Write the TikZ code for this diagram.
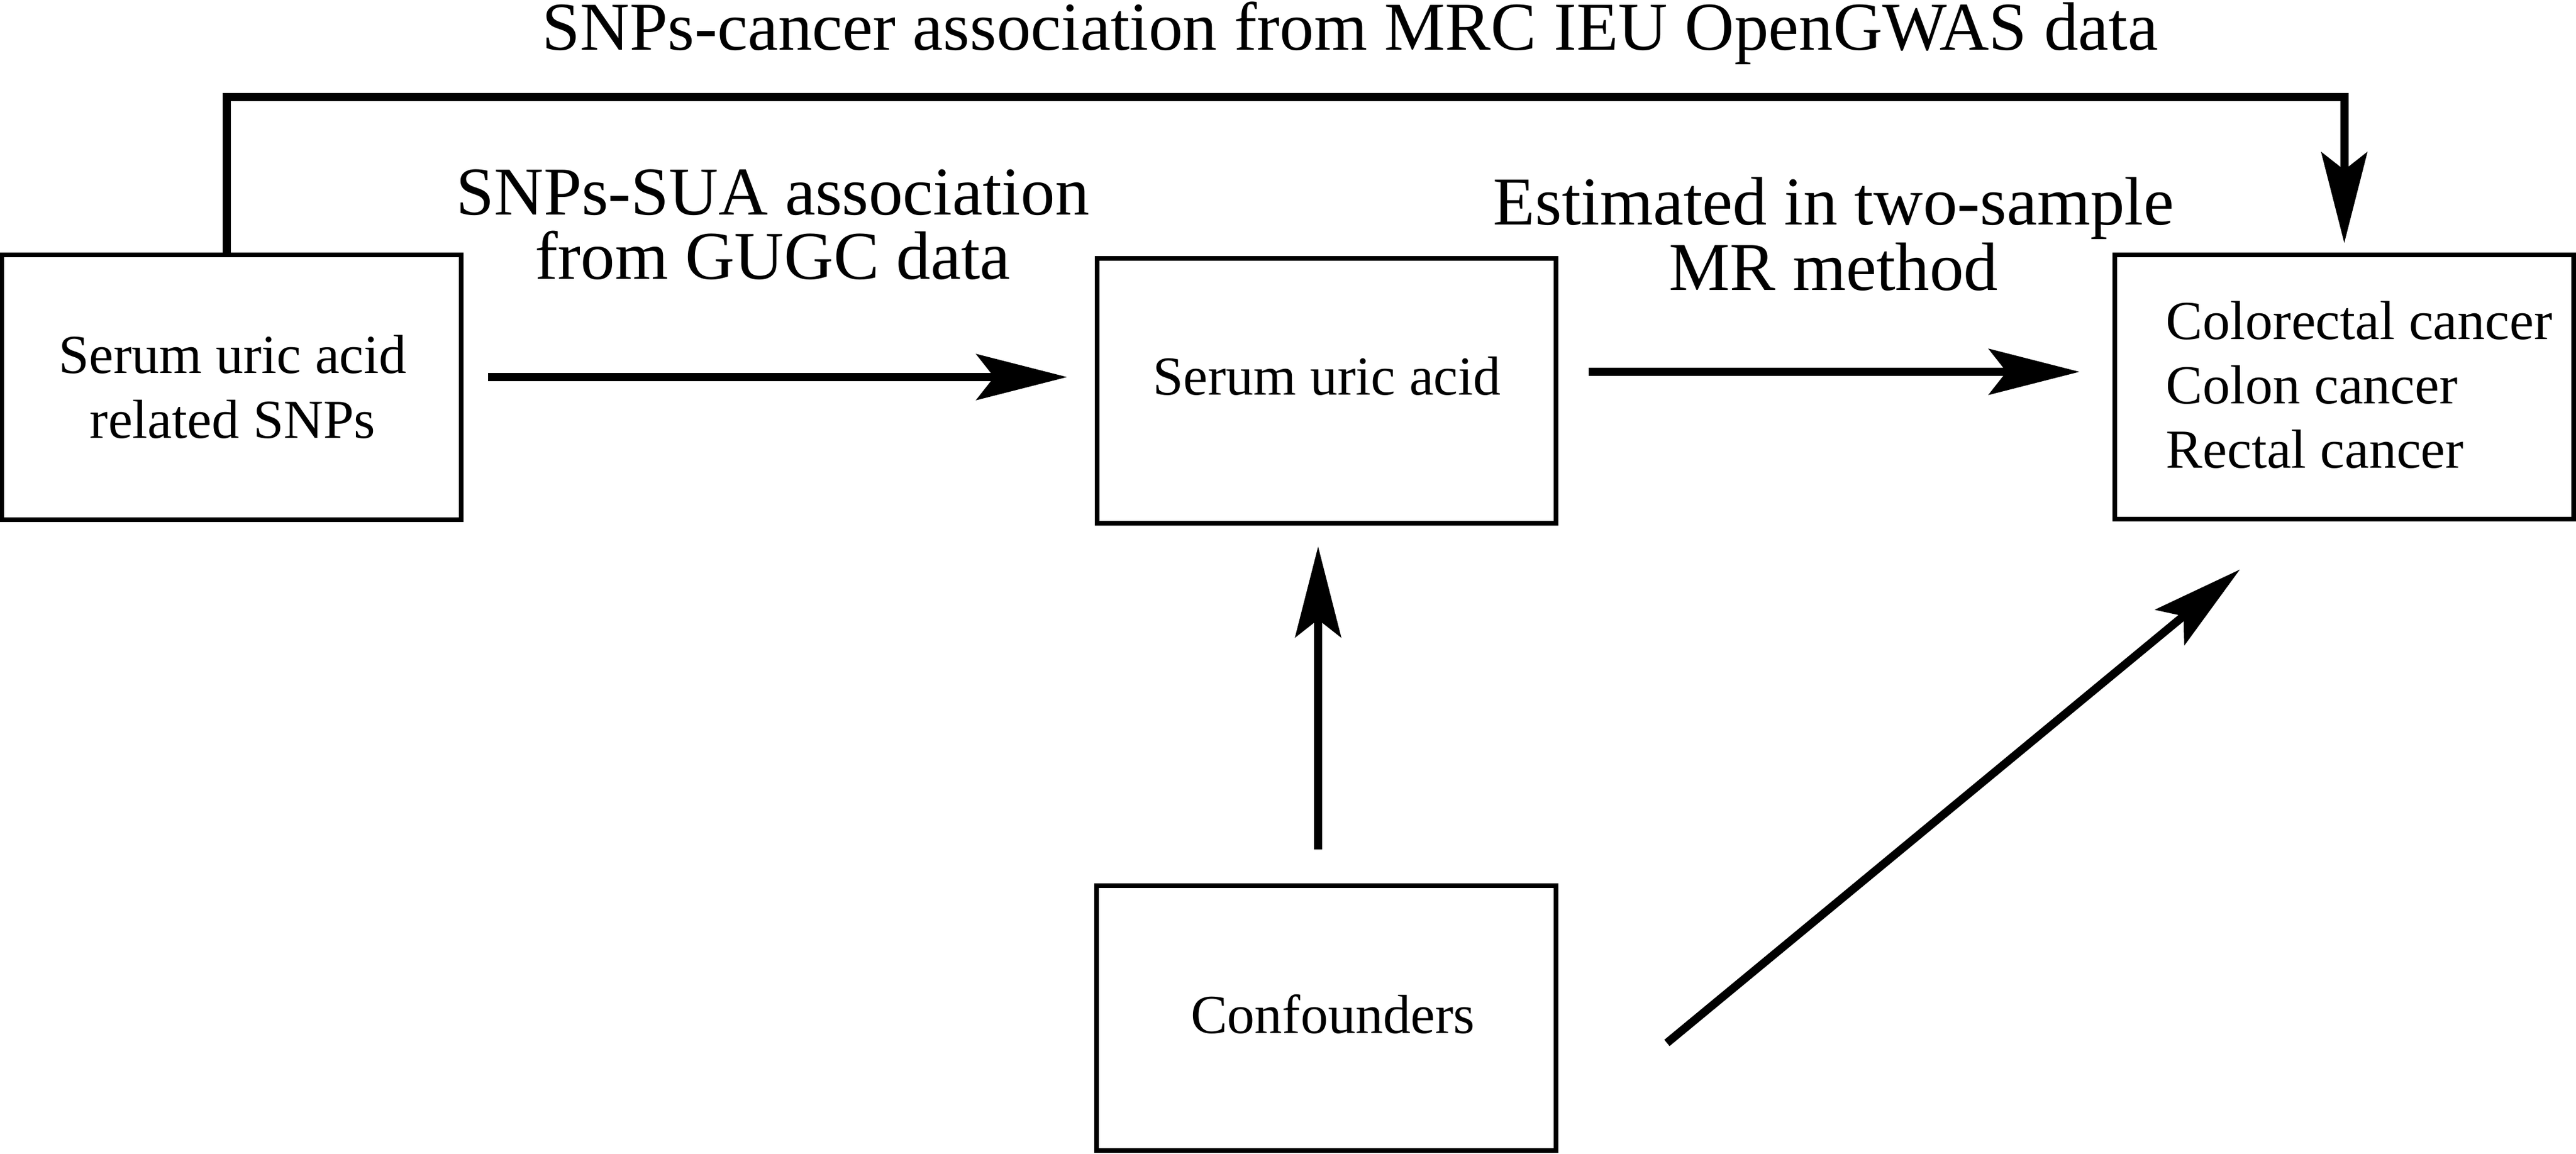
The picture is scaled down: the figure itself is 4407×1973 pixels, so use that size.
\documentclass[tikz,border=0pt]{standalone}
\usepackage{fontspec}
\setmainfont{Liberation Serif}
\usetikzlibrary{arrows.meta}
\begin{document}
\begin{tikzpicture}[x=0.01cm, y=-0.01cm,
  box/.style={draw, line width=0.08cm, rectangle, minimum width=7.85cm, minimum height=4.52cm, inner sep=0pt},
  big/.style={font=\fontsize{33.3pt}{31.3pt}\selectfont, inner sep=0pt},
  small/.style={font=\fontsize{26.75pt}{31.3pt}\selectfont, inner sep=0pt},
  arr/.style={line width=0.14cm, -{Stealth[length=1.55cm, width=0.78cm, inset=0.3cm]}}
]
\useasboundingbox (0,0) rectangle (4407,1973);
% boxes
\node[box] (b1) at (396,662.5) {};
\node[box] (b2) at (2269.5,668.5) {};
\node[box] (b3) at (4010.5,662) {};
\node[box] (b4) at (2269,1741.5) {};
% texts
\node[big, anchor=base] (title) at (2310,86) {SNPs-cancer association from MRC IEU OpenGWAS data};
\node[big, anchor=base] (lab1a) at (1322,367) {SNPs-SUA association};
\node[big, anchor=base] (lab1b) at (1322,477) {from GUGC data};
\node[big, anchor=base] (lab2a) at (3137,384) {Estimated in two-sample};
\node[big, anchor=base] (lab2b) at (3137,496) {MR method};
\node[small, anchor=base] (t1a) at (398,638) {Serum uric acid};
\node[small, anchor=base] (t1b) at (398,749) {related SNPs};
\node[small, anchor=base] (t2) at (2270,675) {Serum uric acid};
\node[small, anchor=base west] (t3a) at (3705,580) {Colorectal cancer};
\node[small, anchor=base west] (t3b) at (3705,690) {Colon cancer};
\node[small, anchor=base west] (t3c) at (3705,800) {Rectal cancer};
\node[small, anchor=base] (t4) at (2280,1767) {Confounders};
% connectors
\draw[arr] ([xshift=-0.08cm]b1.north) -- ++(0,-266.5) -| ([yshift=0.16cm]b3.north);
\coordinate (a1s) at ([shift={(42,-17.5)}]b1.east);
\draw[arr, shorten >=0.47cm] (a1s) -- (a1s -| b2.west);
\coordinate (a2s) at ([shift={(52,-32.5)}]b2.east);
\draw[arr, shorten >=0.56cm] (a2s) -- (a2s -| b3.west);
\coordinate (a3s) at ([shift={(-14,-58.5)}]b4.north);
\draw[arr, shorten >=0.36cm] (a3s) -- (a3s |- b2.south);
\draw[arr] ([shift={(186,42.5)}]b4.east) -- ([shift={(-178.5,82)}]b3.south);
\end{tikzpicture}
\end{document}
